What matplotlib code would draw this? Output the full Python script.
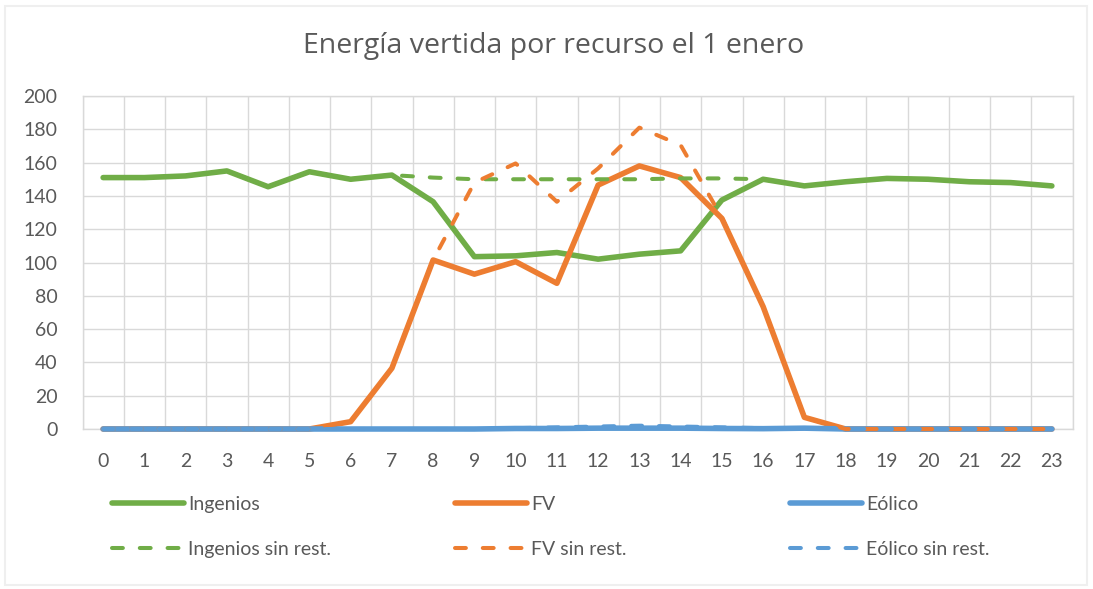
import matplotlib
matplotlib.use("Agg")
import matplotlib.pyplot as plt
from matplotlib.lines import Line2D
from matplotlib.patches import Rectangle

hours = list(range(24))
hour_labels = [str(h) for h in hours]

ingenios = [151, 151, 152, 155, 145.5, 154.5, 150, 152.5, 136.5, 103.5, 104, 106,
            102, 105, 107, 137.5, 150, 146, 148.5, 150.5, 150, 148.5, 148, 146]
fv = [0, 0, 0, 0, 0, 0, 4.4, 36.5, 101.5, 93, 100.5, 87.5,
      146.5, 158, 151, 126.5, 73.5, 7, 0, 0, 0, 0, 0, 0]
eolico = [0, 0, 0, 0, 0, 0, 0, 0, 0, 0, 0.3, 0.3,
          0.5, 0.5, 0.5, 0.3, 0.2, 0.5, 0, 0, 0, 0, 0, 0]
ingenios_sr = [151, 151, 152, 155, 145.5, 154.5, 150, 152.5, 151, 150, 150, 150,
               150, 150, 150.5, 150.5, 150, 146, 148.5, 150.5, 150, 148.5, 148, 146]
fv_sr = [0, 0, 0, 0, 0, 0, 4.4, 36.5, 101.5, 148, 159.5, 136.5,
         156.5, 181, 170.5, 127, 73.5, 7, 0, 0, 0, 0, 0, 0]
eolico_sr = [0, 0, 0, 0, 0, 0, 0, 0, 0, 0, 0.5, 1,
             1.5, 2, 1.5, 1, 0.5, 0.5, 0, 0, 0, 0, 0, 0]

GREEN = "#70AD47"
ORANGE = "#ED7D31"
BLUE = "#5B9BD5"
TXT = "#595959"
GRID = "#D9D9D9"
FONT = "Lato"

fig = plt.figure(figsize=(10.93, 5.89), dpi=100)
fig.patches.append(Rectangle((5 / 1093, 4 / 589), 1082 / 1093, 579 / 589,
                             transform=fig.transFigure, fill=False,
                             edgecolor="#EFEFEF", linewidth=1.5))
ax = fig.add_axes([82.5 / 1093, 1 - 429 / 589, 990 / 1093, 333 / 589])

solid_lw = 4.0
dash_lw = 2.9
dash_pat = (2.7, 4.2)

ax.plot(hours, ingenios, color=GREEN, lw=solid_lw, solid_capstyle="round",
        solid_joinstyle="round", label="Ingenios", zorder=3, clip_on=False)
ax.plot(hours, fv, color=ORANGE, lw=solid_lw, solid_capstyle="round",
        solid_joinstyle="round", label="FV", zorder=3, clip_on=False)
ax.plot(hours, eolico, color=BLUE, lw=solid_lw, solid_capstyle="round",
        solid_joinstyle="round", label="Eólico", zorder=3, clip_on=False)
ax.plot(hours, ingenios_sr, color=GREEN, lw=dash_lw, dashes=dash_pat,
        dash_capstyle="round", label="Ingenios sin rest.", zorder=3, clip_on=False)
ax.plot(hours, fv_sr, color=ORANGE, lw=dash_lw, dashes=dash_pat,
        dash_capstyle="round", label="FV sin rest.", zorder=3, clip_on=False)
ax.plot(hours, eolico_sr, color=BLUE, lw=dash_lw, dashes=dash_pat,
        dash_capstyle="round", label="Eólico sin rest.", zorder=3, clip_on=False)

ax.set_xlim(-0.5, 23.5)
ax.set_ylim(0, 200)
ax.set_yticks(range(0, 201, 20))
ax.set_xticks(hours)
ax.set_xticklabels(hour_labels)
ax.set_xticks([h - 0.5 for h in range(25)], minor=True)
ax.grid(False)
ax.grid(True, which="minor", axis="x", color=GRID, lw=1.0)
ax.grid(True, which="major", axis="y", color=GRID, lw=1.0)
ax.set_axisbelow(True)
for s in ax.spines.values():
    s.set_color(GRID)
    s.set_linewidth(1.0)
ax.tick_params(which="both", length=0)
ax.tick_params(axis="y", pad=18, labelsize=14, labelcolor=TXT)
ax.tick_params(axis="x", pad=17, labelsize=14, labelcolor=TXT)
for lab in ax.get_xticklabels() + ax.get_yticklabels():
    lab.set_family(FONT)

fig.text(554 / 1093, 1 - 46 / 589, "Energía vertida por recurso el 1 enero",
         ha="center", va="center", fontsize=20.5, color=TXT, family="Open Sans")

handles, labels = ax.get_legend_handles_labels()
groups = [(0, 3, 112), (1, 4, 455), (2, 5, 790)]
for a, b, xpx in groups:
    hs = []
    for i in (a, b):
        h = handles[i]
        hs.append(Line2D([], [], color=h.get_color(), lw=h.get_linewidth(),
                         linestyle=h.get_linestyle(),
                         dashes=dash_pat if i >= 3 else (None, None),
                         solid_capstyle="round", dash_capstyle="round"))
    leg = fig.legend(hs, [labels[a], labels[b]], loc="center left",
                     bbox_to_anchor=(xpx / 1093, 1 - 527 / 589),
                     frameon=False, borderpad=0, borderaxespad=0,
                     handlelength=3.7, handletextpad=0.2, labelspacing=1.45,
                     prop={"family": FONT, "size": 14})
    for t in leg.get_texts():
        t.set_color(TXT)

fig.savefig("out.png", dpi=100)
